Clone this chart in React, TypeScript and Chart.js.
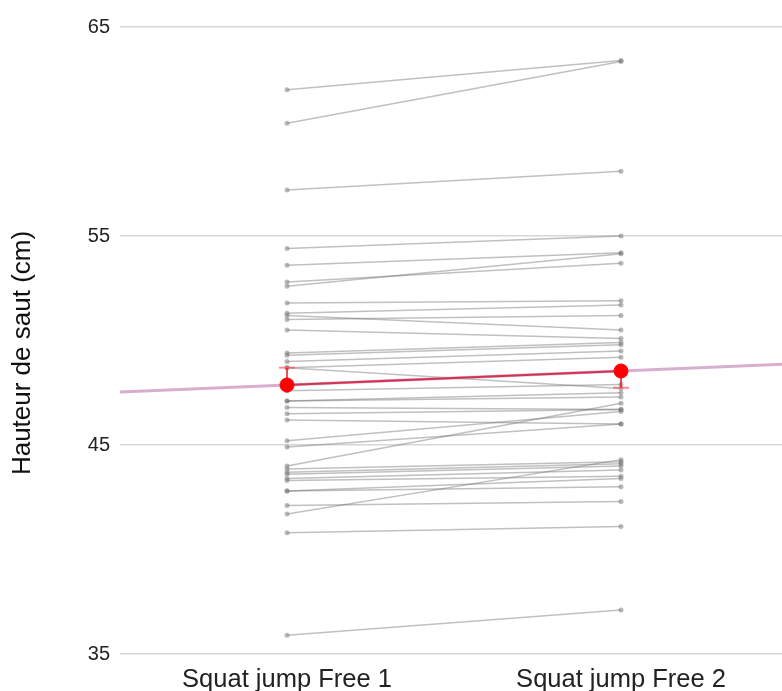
import React, { useEffect, useRef } from "react";
import { Chart, registerables } from "chart.js";

Chart.register(...registerables);

const categories = ["Squat jump Free 1", "Squat jump Free 2"];
const free1 = [
  62.0, 60.4, 57.2, 54.4, 53.6, 52.8, 52.6, 51.8, 51.3, 51.2, 51.0, 50.5,
  49.4, 49.3, 49.0, 48.7, 48.7, 47.6, 47.1, 47.1, 46.8, 46.5, 46.2, 45.2,
  44.9, 44.0, 43.85, 43.7, 43.6, 43.4, 43.3, 42.8, 42.8, 42.1, 41.7, 40.8, 35.9,
];
const free2 = [
  63.4, 63.35, 58.1, 55.0, 54.2, 53.7, 54.15, 51.9, 51.7, 50.5, 51.2, 50.1,
  49.9, 49.8, 49.5, 49.2, 47.7, 47.9, 47.5, 47.3, 46.7, 46.7, 46.0, 46.6,
  46.0, 47.0, 44.2, 44.1, 44.0, 43.8, 43.5, 43.0, 43.4, 42.3, 44.3, 41.1, 37.1,
];
const means = [47.87, 48.54];
const errorEnds = [48.7, 47.74];
const trendX = [0.5, 2.49];
const trendY = [47.53, 48.87];
const yTicks = [35, 45, 55, 65];
const yTitle = "Hauteur de saut (cm)";

const FONT = "'Liberation Sans', Arial, sans-serif";

const yTitlePlugin = {
  id: "yTitle",
  afterDraw(chart: any) {
    const ctx = chart.ctx;
    ctx.save();
    ctx.translate(23, 353);
    ctx.rotate(-Math.PI / 2);
    ctx.fillStyle = "#111";
    ctx.font = `26px ${FONT}`;
    ctx.textAlign = "center";
    ctx.textBaseline = "middle";
    ctx.fillText(yTitle, 0, 0);
    ctx.restore();
  },
};

export default function App() {
  const ref = useRef<HTMLCanvasElement | null>(null);

  useEffect(() => {
    document.body.style.margin = "0";
    document.body.style.overflow = "hidden";
    const canvas = ref.current;
    if (!canvas) return;

    const datasets: any[] = [];

    free1.forEach((v, i) => {
      datasets.push({
        type: "line",
        data: [
          { x: 1, y: v },
          { x: 2, y: free2[i] },
        ],
        borderColor: "rgba(115,115,115,0.45)",
        borderWidth: 1.5,
        pointRadius: 2.5,
        pointBackgroundColor: "rgba(115,115,115,0.5)",
        pointBorderColor: "rgba(115,115,115,0.5)",
        pointBorderWidth: 0,
        order: 5,
      });
    });

    datasets.push({
      type: "line",
      data: trendX.map((x, i) => ({ x, y: trendY[i] })),
      borderColor: "rgba(200,140,185,0.7)",
      borderWidth: 3,
      pointRadius: 0,
      order: 4,
    });

    datasets.push({
      type: "line",
      data: means.map((m, i) => ({ x: i + 1, y: m })),
      borderColor: "rgba(210,30,60,0.85)",
      borderWidth: 2,
      pointRadius: 0,
      order: 3,
    });

    means.forEach((m, i) => {
      const x = i + 1;
      datasets.push({
        type: "line",
        data: [
          { x, y: m },
          { x, y: errorEnds[i] },
        ],
        borderColor: "rgba(220,40,50,0.8)",
        borderWidth: 2,
        pointRadius: 0,
        order: 2,
      });
      datasets.push({
        type: "line",
        data: [
          { x: x - 0.024, y: errorEnds[i] },
          { x: x + 0.024, y: errorEnds[i] },
        ],
        borderColor: "rgba(255,90,90,0.7)",
        borderWidth: 2,
        pointRadius: 0,
        order: 2,
      });
    });

    datasets.push({
      type: "scatter",
      data: means.map((m, i) => ({ x: i + 1, y: m })),
      backgroundColor: "#ff0000",
      borderColor: "#ff0000",
      pointRadius: 7,
      order: 0,
    });

    const chart = new Chart(canvas, {
      type: "line",
      data: { datasets },
      plugins: [yTitlePlugin],
      options: {
        animation: false,
        responsive: false,
        maintainAspectRatio: false,
        layout: { padding: { top: 27, right: 0, left: 0, bottom: 0 } },
        plugins: { legend: { display: false }, tooltip: { enabled: false } },
        scales: {
          x: {
            type: "linear",
            min: 0.5,
            max: 2.482,
            grid: { display: false },
            border: { display: false },
            afterBuildTicks: (scale: any) => {
              scale.ticks = categories.map((_, i) => ({ value: i + 1 }));
            },
            afterFit: (scale: any) => {
              scale.height = 37;
            },
            ticks: {
              callback: (v: any) => categories[Number(v) - 1] ?? "",
              color: "#222",
              font: { family: FONT, size: 25.5 },
              padding: 3,
              maxRotation: 0,
            },
          },
          y: {
            type: "linear",
            min: 35,
            max: 65,
            afterBuildTicks: (scale: any) => {
              scale.ticks = yTicks.map((v) => ({ value: v }));
            },
            afterFit: (scale: any) => {
              scale.width = 120;
            },
            grid: { color: "#d6d6d6", lineWidth: 1.5, drawTicks: false },
            border: { display: false },
            ticks: {
              color: "#222",
              font: { family: FONT, size: 20 },
              padding: 10,
            },
          },
        },
      },
    });

    return () => chart.destroy();
  }, []);

  return (
    <div style={{ width: 782, height: 691, overflow: "hidden" }}>
      <canvas ref={ref} width={790} height={691} style={{ display: "block" }} />
    </div>
  );
}
